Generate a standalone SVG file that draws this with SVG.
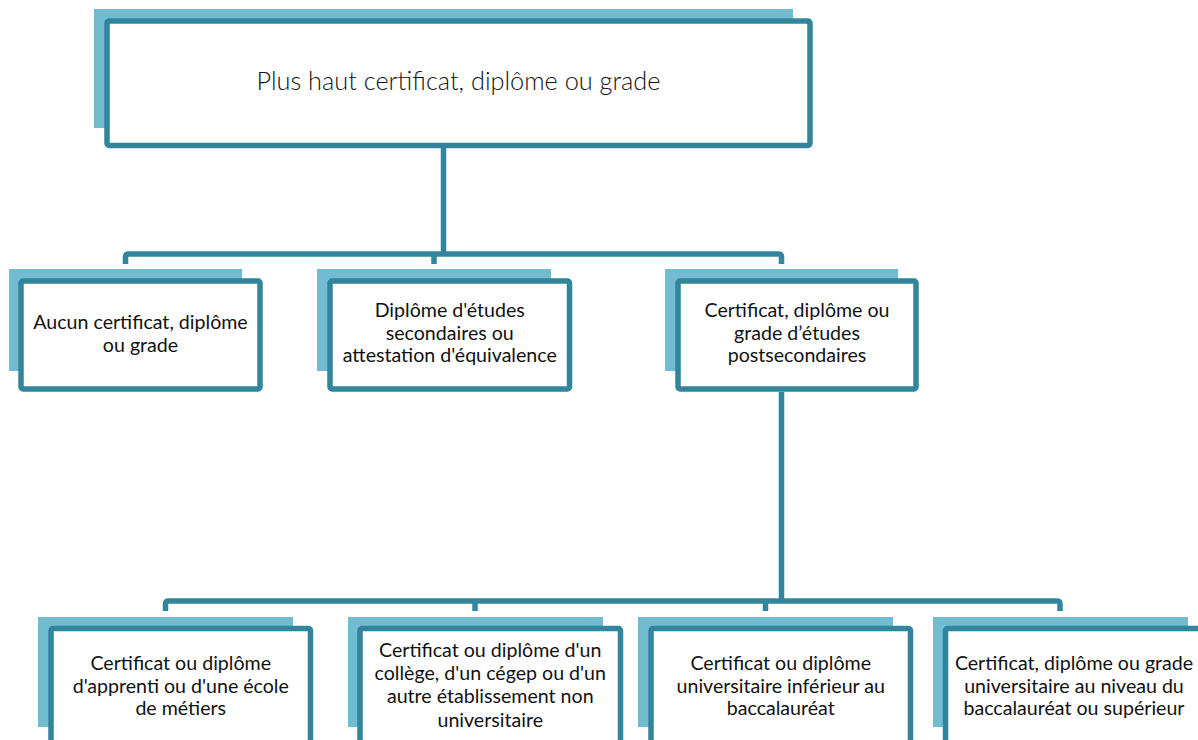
<svg xmlns="http://www.w3.org/2000/svg" width="1198" height="740" viewBox="0 0 1198 740">
<style>
.sh{fill:#71BCD0}
.fr{fill:#fff;stroke:#31859C;stroke-width:5.5}
.cn{fill:none;stroke:#31859C;stroke-width:5.5;stroke-linejoin:round}
.t{font-family:Lato,"Open Sans","Liberation Sans",sans-serif;font-size:19.6px;fill:#111;text-anchor:middle}
.tt{font-family:Lato,"Open Sans","Liberation Sans",sans-serif;font-weight:300;font-size:25.3px;fill:#111;text-anchor:middle}
</style>
<rect width="1198" height="740" fill="#fff"/>
<g id="connectors">
<path class="cn" d="M443.5 148V254"/>
<path class="cn" d="M125.5 264V257q0-3 3-3H778.5q3 0 3 3V264"/>
<path class="cn" d="M434 254V264"/>
<path class="cn" d="M781.5 392V601"/>
<path class="cn" d="M165.5 611V604q0-3 3-3H1057q3 0 3 3V611"/>
<path class="cn" d="M475 601V611"/>
<path class="cn" d="M765.5 601V611"/>
</g>
<g id="n0">
<rect class="sh" x="94" y="9" width="699" height="119"/>
<rect class="fr" x="107" y="21" width="703" height="124.5" rx="2"/>
<text class="tt" x="458.5" y="90">Plus haut certificat, diplôme ou grade</text>
</g>
<g id="n1">
<rect class="sh" x="9" y="269" width="233" height="102"/>
<rect class="fr" x="21" y="281" width="239" height="108" rx="2"/>
<text class="t" x="140.5" y="329">Aucun certificat, diplôme</text>
<text class="t" x="140.5" y="351.5">ou grade</text>
</g>
<g id="n2">
<rect class="sh" x="317" y="269" width="234" height="102"/>
<rect class="fr" x="330" y="281" width="239.5" height="108" rx="2"/>
<text class="t" x="449.75" y="316.5">Diplôme d'études</text>
<text class="t" x="449.75" y="339.5">secondaires ou</text>
<text class="t" x="449.75" y="362">attestation d'équivalence</text>
</g>
<g id="n3">
<rect class="sh" x="665" y="269" width="233" height="102"/>
<rect class="fr" x="678" y="281" width="238" height="108" rx="2"/>
<text class="t" x="797" y="316.5">Certificat, diplôme ou</text>
<text class="t" x="797" y="339.5">grade d’études</text>
<text class="t" x="797" y="362">postsecondaires</text>
</g>
<g id="n4">
<rect class="sh" x="38" y="617" width="255" height="110"/>
<rect class="fr" x="51" y="628.5" width="259.5" height="130" rx="2"/>
<text class="t" x="180.75" y="670">Certificat ou diplôme</text>
<text class="t" x="180.75" y="692.5">d'apprenti ou d'une école</text>
<text class="t" x="180.75" y="715">de métiers</text>
</g>
<g id="n5">
<rect class="sh" x="348" y="617" width="255" height="110"/>
<rect class="fr" x="360" y="628.5" width="260.5" height="130" rx="2"/>
<text class="t" x="490.25" y="656.5">Certificat ou diplôme d'un</text>
<text class="t" x="490.25" y="680">collège, d'un cégep ou d'un</text>
<text class="t" x="490.25" y="703">autre établissement non</text>
<text class="t" x="490.25" y="726.5">universitaire</text>
</g>
<g id="n6">
<rect class="sh" x="638" y="617" width="255" height="110"/>
<rect class="fr" x="651" y="628.5" width="259.5" height="130" rx="2"/>
<text class="t" x="780.75" y="670">Certificat ou diplôme</text>
<text class="t" x="780.75" y="692.5">universitaire inférieur au</text>
<text class="t" x="780.75" y="715">baccalauréat</text>
</g>
<g id="n7">
<rect class="sh" x="933" y="617" width="255" height="110"/>
<rect class="fr" x="945.5" y="628.5" width="259.5" height="130" rx="2"/>
<text class="t" x="1074" y="670">Certificat, diplôme ou grade</text>
<text class="t" x="1074" y="692.5">universitaire au niveau du</text>
<text class="t" x="1074" y="715">baccalauréat ou supérieur</text>
</g>
</svg>
